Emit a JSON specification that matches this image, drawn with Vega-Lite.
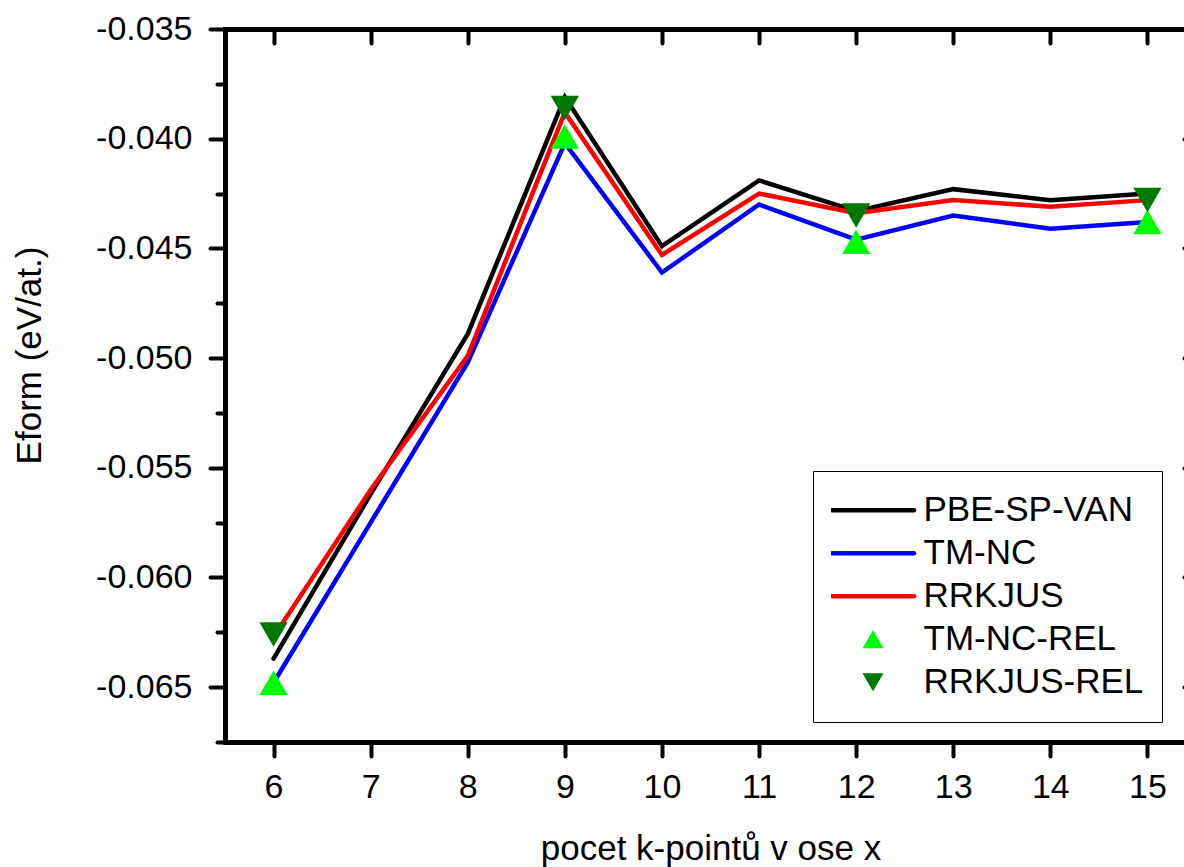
{
  "$schema": "https://vega.github.io/schema/vega-lite/v6.json",
  "width": 971,
  "height": 713,
  "autosize": {"type": "none"},
  "padding": {"left": 225, "top": 29, "right": 0, "bottom": 130},
  "background": "white",
  "config": {
    "view": {"stroke": null},
    "font": "Liberation Sans",
    "axis": {
      "domainColor": "black",
      "domainWidth": 5,
      "domainCap": "square",
      "tickColor": "black",
      "tickWidth": 4,
      "tickCap": "round",
      "labelColor": "black",
      "labelFont": "Liberation Sans",
      "labelFontSize": 34,
      "titleFont": "Liberation Sans",
      "titleFontSize": 35,
      "titleFontWeight": "normal",
      "titleColor": "black",
      "grid": false,
      "labelFlush": false,
      "labelOverlap": false
    }
  },
  "data": {
    "values": [
      {"k": 6, "E": -0.0637, "series": "PBE-SP-VAN"},
      {"k": 7, "E": -0.0562, "series": "PBE-SP-VAN"},
      {"k": 8, "E": -0.0489, "series": "PBE-SP-VAN"},
      {"k": 9, "E": -0.0381, "series": "PBE-SP-VAN"},
      {"k": 10, "E": -0.0449, "series": "PBE-SP-VAN"},
      {"k": 11, "E": -0.0419, "series": "PBE-SP-VAN"},
      {"k": 12, "E": -0.0433, "series": "PBE-SP-VAN"},
      {"k": 13, "E": -0.0423, "series": "PBE-SP-VAN"},
      {"k": 14, "E": -0.0428, "series": "PBE-SP-VAN"},
      {"k": 15, "E": -0.0425, "series": "PBE-SP-VAN"},
      {"k": 6, "E": -0.0648, "series": "TM-NC"},
      {"k": 7, "E": -0.0575, "series": "TM-NC"},
      {"k": 8, "E": -0.0502, "series": "TM-NC"},
      {"k": 9, "E": -0.0402, "series": "TM-NC"},
      {"k": 10, "E": -0.0461, "series": "TM-NC"},
      {"k": 11, "E": -0.0430, "series": "TM-NC"},
      {"k": 12, "E": -0.0446, "series": "TM-NC"},
      {"k": 13, "E": -0.0435, "series": "TM-NC"},
      {"k": 14, "E": -0.0441, "series": "TM-NC"},
      {"k": 15, "E": -0.0438, "series": "TM-NC"},
      {"k": 6, "E": -0.0627, "series": "RRKJUS"},
      {"k": 7, "E": -0.0560, "series": "RRKJUS"},
      {"k": 8, "E": -0.0499, "series": "RRKJUS"},
      {"k": 9, "E": -0.0388, "series": "RRKJUS"},
      {"k": 10, "E": -0.0453, "series": "RRKJUS"},
      {"k": 11, "E": -0.0425, "series": "RRKJUS"},
      {"k": 12, "E": -0.0434, "series": "RRKJUS"},
      {"k": 13, "E": -0.0428, "series": "RRKJUS"},
      {"k": 14, "E": -0.0431, "series": "RRKJUS"},
      {"k": 15, "E": -0.0428, "series": "RRKJUS"},
      {"k": 6, "E": -0.0648, "series": "TM-NC-REL"},
      {"k": 9, "E": -0.0399, "series": "TM-NC-REL"},
      {"k": 12, "E": -0.0447, "series": "TM-NC-REL"},
      {"k": 15, "E": -0.0438, "series": "TM-NC-REL"},
      {"k": 6, "E": -0.0626, "series": "RRKJUS-REL"},
      {"k": 9, "E": -0.0386, "series": "RRKJUS-REL"},
      {"k": 12, "E": -0.0435, "series": "RRKJUS-REL"},
      {"k": 15, "E": -0.0428, "series": "RRKJUS-REL"}
    ]
  },
  "layer": [
    {
      "transform": [{"filter": "datum.series == 'PBE-SP-VAN' || datum.series == 'TM-NC' || datum.series == 'RRKJUS'"}],
      "mark": {"type": "line", "strokeWidth": 4.5, "strokeCap": "round"},
      "encoding": {
        "x": {
          "field": "k", "type": "quantitative",
          "scale": {"domain": [5.5, 15.5], "nice": false, "zero": false},
          "axis": {
            "orient": "bottom",
            "values": [6, 7, 8, 9, 10, 11, 12, 13, 14, 15],
            "format": "d",
            "tickSize": 14,
            "labelPadding": 14,
            "title": "pocet k-pointů v ose x",
            "titlePadding": 27
          }
        },
        "y": {
          "field": "E", "type": "quantitative",
          "scale": {"domain": [-0.0675, -0.035], "nice": false, "zero": false},
          "axis": {
            "orient": "left",
            "values": [-0.065, -0.06, -0.055, -0.05, -0.045, -0.04, -0.035],
            "format": ".3f",
            "labelExpr": "replace(datum.label, '\u2212', '-')",
            "tickSize": 15,
            "labelPadding": 18,
            "title": "Eform (eV/at.)",
            "titlePadding": 48,
            "titleY": 326
          }
        },
        "color": {
          "field": "series", "type": "nominal",
          "scale": {
            "domain": ["PBE-SP-VAN", "TM-NC", "RRKJUS", "TM-NC-REL", "RRKJUS-REL"],
            "range": ["#000000", "#0000FF", "#FF0000", "#00FF00", "#007800"]
          },
          "legend": {
            "title": null,
            "orient": "none",
            "legendX": 588,
            "legendY": 442,
            "direction": "vertical",
            "padding": 18,
            "strokeColor": "black",
            "fillColor": "white",
            "cornerRadius": 0,
            "labelFont": "Liberation Sans",
            "labelFontSize": 35,
            "labelColor": "black",
            "labelLimit": 400,
            "labelOffset": 33,
            "symbolOffset": 24.5,
            "symbolType": "stroke",
            "symbolStrokeWidth": 4.5,
            "clipHeight": 42.5,
            "rowPadding": 0,
            "encode": {
              "symbols": {
                "update": {
                  "shape": {"signal": "datum.value == 'TM-NC-REL' ? 'triangle-up' : (datum.value == 'RRKJUS-REL' ? 'triangle-down' : 'stroke')"},
                  "size": {"signal": "(datum.value == 'TM-NC-REL' || datum.value == 'RRKJUS-REL') ? 440 : 6724"},
                  "stroke": {"signal": "datum.value == 'PBE-SP-VAN' ? '#000000' : (datum.value == 'TM-NC' ? '#0000FF' : (datum.value == 'RRKJUS' ? '#FF0000' : 'transparent'))"},
                  "fill": {"signal": "datum.value == 'TM-NC-REL' ? '#00FF00' : (datum.value == 'RRKJUS-REL' ? '#007800' : 'transparent')"},
                  "strokeWidth": {"signal": "(datum.value == 'TM-NC-REL' || datum.value == 'RRKJUS-REL') ? 0 : 4.5"},
                  "strokeCap": {"value": "round"},
                  "opacity": {"value": 1}
                }
              }
            }
          }
        }
      }
    },
    {
      "transform": [{"filter": "datum.series == 'TM-NC-REL'"}],
      "mark": {"type": "point", "shape": "triangle-up", "filled": true, "size": 800, "opacity": 1},
      "encoding": {
        "x": {
          "field": "k", "type": "quantitative",
          "axis": {
            "orient": "top",
            "values": [6, 7, 8, 9, 10, 11, 12, 13, 14, 15],
            "labels": false,
            "tickSize": -14,
            "title": null
          }
        },
        "y": {
          "field": "E", "type": "quantitative",
          "axis": {
            "orient": "left",
            "values": [-0.0675, -0.0625, -0.0575, -0.0525, -0.0475, -0.0425, -0.0375],
            "labels": false,
            "domain": false,
            "tickSize": 8,
            "title": null
          }
        },
        "color": {"field": "series", "type": "nominal"}
      }
    },
    {
      "transform": [{"filter": "datum.series == 'RRKJUS-REL'"}],
      "mark": {"type": "point", "shape": "triangle-down", "filled": true, "size": 800, "opacity": 1},
      "encoding": {
        "x": {"field": "k", "type": "quantitative", "axis": null},
        "y": {
          "field": "E", "type": "quantitative",
          "axis": {
            "orient": "right",
            "values": [-0.065, -0.06, -0.055, -0.05, -0.045, -0.04, -0.035],
            "labels": false,
            "tickSize": -12,
            "title": null
          }
        },
        "color": {"field": "series", "type": "nominal"}
      }
    }
  ],
  "resolve": {"axis": {"x": "independent", "y": "independent"}}
}
